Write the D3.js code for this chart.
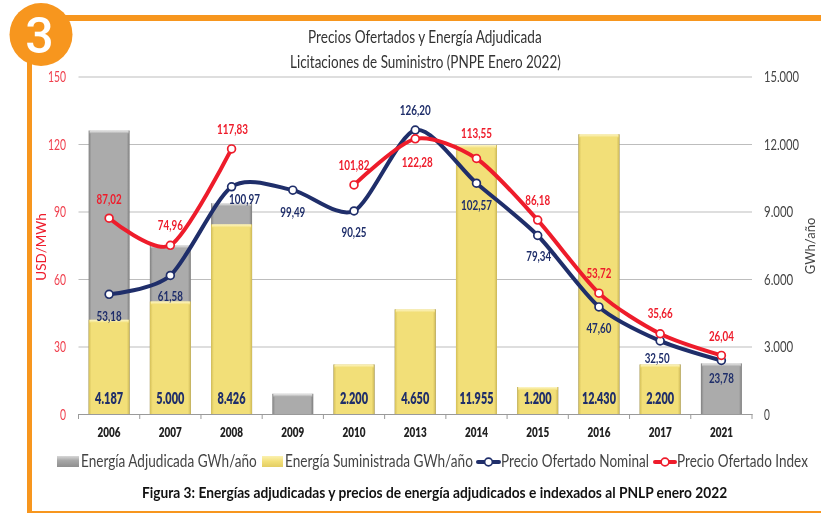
<!DOCTYPE html>
<html><head><meta charset="utf-8">
<script src="https://cdn.jsdelivr.net/npm/d3@7"></script>
<style>
html,body{margin:0;padding:0;background:#fff;overflow:hidden}
svg{display:block;filter:blur(0.4px)}
text{font-family:Lato,sans-serif}
</style></head><body><div id="c"></div>
<script>
const years=["2006","2007","2008","2009","2010","2013","2014","2015","2016","2017","2021"];
const adjudicada=[12600,7500,9370,900,2200,4650,11955,1200,12430,2200,2250];
const suministrada=[4187,5000,8426,null,2200,4650,11955,1200,12430,2200,null];
const nominal=[53.18,61.58,100.97,99.49,90.25,126.20,102.57,79.34,47.60,32.50,23.78];
const index=[87.02,74.96,117.83,null,101.82,122.28,113.55,86.18,53.72,35.66,26.04];
const priceTicks=[0,30,60,90,120,150];
const energyTicks=[0,3000,6000,9000,12000,15000];
// label offsets from each point (layout only)
const nominalOffsets=[[0,22],[0,21],[13,13],[0,22],[0,22],[0,-20],[0,22],[1,21],[0,22],[-3,18],[0,18]];
const indexOffsets=[[0,-19],[0,-20],[1,-19],null,[0,-19],[2,24],[0,-25],[0,-20],[0,-20],[0,-20],[0,-19]];

const fmtDec=v=>v.toFixed(2).replace(".",",");
const fmtInt=v=>d3.format(",")(v).replace(/,/g,".");
const W=821,H=513,L=78.5,R=752,T=76.5,B=414;
const orange="#f7961e",navy="#1f2e6a",red="#ee1c2b",yel="#f2df78",gray="#ababab";

const svg=d3.select("#c").append("svg").attr("width",W).attr("height",H);
const defs=svg.append("defs");
function grad(id,stops,x2,y2){
  const g=defs.append("linearGradient").attr("id",id).attr("x1",0).attr("y1",0).attr("x2",x2).attr("y2",y2);
  stops.forEach(s=>g.append("stop").attr("offset",s[0]).attr("stop-color",s[1]));
}
grad("gy",[[0,"#d4bf58"],[0.07,yel],[0.93,yel],[1,"#cdb856"]],1,0);
grad("gg",[[0,"#808080"],[0.07,gray],[0.93,gray],[1,"#7c7c7c"]],1,0);
grad("ty",[[0,"#fdf6c8"],[1,yel]],0,1);
grad("tg",[[0,"#ececec"],[1,gray]],0,1);
grad("sg",[[0,"#d8d8d8"],[0.4,"#a8a8a8"],[1,"#8f8f8f"]],0,1);
grad("sy",[[0,"#fbf1b0"],[0.5,yel],[1,"#e3cd63"]],0,1);

const x=d3.scaleBand().domain(years).range([L,R]);
const yP=d3.scaleLinear().domain([0,150]).range([B,T]);
const yE=d3.scaleLinear().domain([0,15000]).range([B,T]);

// frame
svg.append("rect").attr("x",60).attr("y",15).attr("width",W-60).attr("height",6).attr("fill",orange);
svg.append("rect").attr("x",27).attr("y",50).attr("width",5).attr("height",H-50).attr("fill",orange);
svg.append("rect").attr("x",27).attr("y",511).attr("width",W-27).attr("height",2).attr("fill",orange);
svg.append("circle").attr("cx",41).attr("cy",34.5).attr("r",31.5).attr("fill",orange);
svg.append("text").attr("x",39.5).attr("y",53).attr("text-anchor","middle").attr("font-size",50).attr("font-weight",500)
  .attr("fill","#fff").style("font-family","Roboto").text("3");

// text squeezed horizontally to span x0..x1
function fit(t,x0,x1,y,size,fill,weight){
  const el=svg.append("text").attr("font-size",size).attr("fill",fill).attr("font-weight",weight||400).text(t);
  const k=(x1-x0)/el.node().getComputedTextLength();
  return el.attr("transform",`translate(${x0},${y}) scale(${k},1)`);
}
fit("Precios Ofertados y Energía Adjudicada",308,542,43,17.5,"#333");
fit("Licitaciones de Suministro (PNPE Enero 2022)",290,561,68,17.5,"#333");

// grid
svg.append("g").selectAll("line").data(priceTicks.slice(1)).join("line")
  .attr("x1",L).attr("x2",R).attr("y1",d=>yP(d)+.5).attr("y2",d=>yP(d)+.5).attr("stroke","#bdbdbd").attr("stroke-width",1);

// bars
function bars(vals,body,top){
  const w=41,g=svg.append("g");
  const d=years.map((y,i)=>({y,v:vals[i]})).filter(o=>o.v!=null);
  g.selectAll("rect.b").data(d).join("rect").attr("class","b")
    .attr("x",o=>x(o.y)+(x.bandwidth()-w)/2).attr("width",w)
    .attr("y",o=>yE(o.v)).attr("height",o=>B-yE(o.v)).attr("fill",`url(#${body})`);
  g.selectAll("rect.t").data(d).join("rect").attr("class","t")
    .attr("x",o=>x(o.y)+(x.bandwidth()-w)/2+1).attr("width",w-2)
    .attr("y",o=>yE(o.v)).attr("height",3).attr("fill",`url(#${top})`);
}
bars(adjudicada,"gg","tg");
bars(suministrada,"gy","ty");

// axes
const ax=svg.append("g").attr("transform",`translate(0,${B})`)
  .call(d3.axisBottom(x).tickSizeOuter(0).tickSize(0).tickPadding(14));
ax.select(".domain").attr("stroke","#9a9a9a").attr("stroke-width",1);
ax.selectAll("text").attr("font-size",13).attr("font-weight",800).attr("fill","#222").style("font-family","Lato")
  .attr("textLength",23).attr("lengthAdjust","spacingAndGlyphs");
svg.append("g").selectAll("line").data(d3.range(years.length+1)).join("line")
  .attr("x1",i=>L+i*x.step()).attr("x2",i=>L+i*x.step()).attr("y1",B).attr("y2",B+5).attr("stroke","#9a9a9a");

const la=svg.append("g").attr("transform","translate(66,0)").call(d3.axisLeft(yP).tickValues(priceTicks).tickSize(0).tickPadding(0));
la.select(".domain").remove();
la.selectAll("text").attr("font-size",16).attr("fill","#f0404e").style("font-family","Lato")
  .attr("textLength",function(){return this.textContent.length*6;}).attr("lengthAdjust","spacingAndGlyphs");
const ra=svg.append("g").attr("transform","translate(764,0)").call(d3.axisRight(yE).tickValues(energyTicks).tickFormat(fmtInt).tickSize(0).tickPadding(0));
ra.select(".domain").remove();
ra.selectAll("text").attr("font-size",16).attr("fill","#444").style("font-family","Lato")
  .attr("textLength",function(){return this.textContent.length*5.85;}).attr("lengthAdjust","spacingAndGlyphs");

svg.append("text").attr("transform","translate(46,247) rotate(-90)").attr("text-anchor","middle").attr("font-size",13.5).attr("fill",red).text("USD/MWh");
svg.append("text").attr("transform","translate(815,246) rotate(-90)").attr("text-anchor","middle").attr("font-size",13).attr("fill","#444").text("GWh/año");

// bar value labels
svg.append("g").selectAll("text").data(years.map((y,i)=>({y,v:suministrada[i]})).filter(o=>o.v!=null)).join("text")
  .attr("x",o=>x(o.y)+x.bandwidth()/2).attr("y",404).attr("text-anchor","middle").attr("font-size",16).attr("font-weight",800)
  .attr("fill",navy).attr("textLength",o=>o.v>=10000?34:28).attr("lengthAdjust","spacingAndGlyphs").text(o=>fmtInt(o.v));

// lines
function series(vals,color){
  const px=i=>x(years[i])+x.bandwidth()/2;
  const line=d3.line().defined(d=>d.v!=null).x(d=>px(d.i)).y(d=>yP(d.v)).curve(d3.curveCardinal.tension(0.2));
  const d=vals.map((v,i)=>({v,i}));
  svg.append("path").datum(d).attr("d",line).attr("fill","none").attr("stroke",color).attr("stroke-width",4).attr("stroke-linecap","round");
  svg.append("g").selectAll("circle").data(d.filter(o=>o.v!=null)).join("circle")
    .attr("cx",o=>px(o.i)).attr("cy",o=>yP(o.v)).attr("r",3.9).attr("fill","#fff").attr("stroke",color).attr("stroke-width",1.7);
}
series(nominal,navy);
series(index,red);

function ptLabels(vals,offs,color){
  const px=i=>x(years[i])+x.bandwidth()/2;
  svg.append("g").selectAll("text").data(vals.map((v,i)=>({v,i})).filter(o=>o.v!=null)).join("text")
    .attr("x",o=>px(o.i)+offs[o.i][0]).attr("y",o=>yP(o.v)+offs[o.i][1]+4.5).attr("text-anchor","middle")
    .attr("font-size",14).attr("font-weight",700).attr("fill",color)
    .attr("textLength",o=>o.v>=100?31:25).attr("lengthAdjust","spacingAndGlyphs").text(o=>fmtDec(o.v));
}
ptLabels(nominal,nominalOffsets,navy);
ptLabels(index,indexOffsets,red);

// legend
const ly=467;
svg.append("rect").attr("x",57).attr("y",456).attr("width",22).attr("height",11).attr("fill","url(#sg)");
fit("Energía Adjudicada GWh/año",81,257,ly,17,"#444");
svg.append("rect").attr("x",262).attr("y",456).attr("width",21).attr("height",11).attr("fill","url(#sy)");
fit("Energía Suministrada GWh/año",285,473,ly,17,"#444");
function legLine(a,b,c){
  svg.append("line").attr("x1",a).attr("x2",b).attr("y1",462).attr("y2",462).attr("stroke",c).attr("stroke-width",4).attr("stroke-linecap","round");
  svg.append("circle").attr("cx",(a+b)/2).attr("cy",462).attr("r",3.9).attr("fill","#fff").attr("stroke",c).attr("stroke-width",1.7);
}
legLine(478,499,navy);
fit("Precio Ofertado Nominal",501,649,ly,17,"#444");
legLine(655,675,red);
fit("Precio Ofertado Index",677,808,ly,17,"#444");

fit("Figura 3: Energías adjudicadas y precios de energía adjudicados e indexados al PNLP enero 2022",142,728,498,15,"#111",700);
</script></body></html>
